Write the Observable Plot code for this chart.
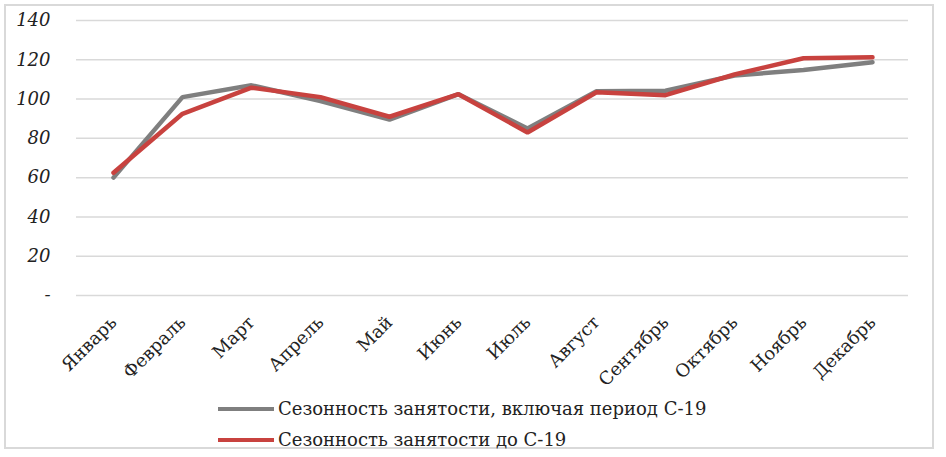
<!DOCTYPE html>
<html>
<head>
<meta charset="utf-8">
<script src="https://cdn.jsdelivr.net/npm/d3@7"></script>
<script src="https://cdn.jsdelivr.net/npm/@observablehq/plot@0.6"></script>
<style>
  body { margin: 0; background: #fff; width: 946px; height: 457px; position: relative; overflow: hidden; }
  #frame { position: absolute; left: 4px; top: 4px; width: 930px; height: 445px; border: 2px solid #d9d9d9; box-sizing: border-box; }
  #chart { position: absolute; left: 0; top: 0; }
  #legend { position: absolute; left: 218px; top: 393px; font-family: "DejaVu Serif", serif; font-size: 18px; color: #222; }
  .row { display: flex; align-items: center; height: 31px; }
  .sw { width: 56px; height: 4px; margin-right: 4px; }
</style>
</head>
<body>
<div id="frame"></div>
<div id="chart"></div>
<div id="legend"></div>
<script>
const months = ["Январь","Февраль","Март","Апрель","Май","Июнь","Июль","Август","Сентябрь","Октябрь","Ноябрь","Декабрь"];
const withCovid = [60, 101, 107, 99, 89.5, 102.5, 85, 104, 104.2, 112, 114.8, 118.8];
const beforeCovid = [62.5, 92.5, 105.8, 101, 91, 102.5, 83, 103.5, 102, 112.5, 120.8, 121.3];
const seriesNames = ["Сезонность занятости, включая период С-19", "Сезонность занятости до С-19"];
const seriesColors = ["#7f7f7f", "#c8423f"];
const yTicks = [0, 20, 40, 60, 80, 100, 120, 140];

const data = [];
months.forEach((m, i) => {
  data.push({month: m, value: withCovid[i], series: seriesNames[0]});
  data.push({month: m, value: beforeCovid[i], series: seriesNames[1]});
});

const chart = Plot.plot({
  width: 946,
  height: 390,
  marginLeft: 76,
  marginRight: 38,
  marginTop: 20,
  marginBottom: 95,
  style: {fontFamily: "'DejaVu Serif', serif", background: "transparent"},
  x: {type: "point", domain: months, padding: 0.5, label: null},
  y: {domain: [0, 140], label: null},
  color: {domain: seriesNames, range: seriesColors},
  marks: [
    Plot.gridY(yTicks, {stroke: "#d9d9d9", strokeOpacity: 1, strokeWidth: 1.5}),
    Plot.axisY(yTicks, {tickSize: 0, tickPadding: 26, tickFormat: d => d === 0 ? "-" : d, fontSize: 18, fontStyle: "italic", fill: "#222", label: null}),
    Plot.axisX({tickSize: 0, tickPadding: 24, tickRotate: -45, fontSize: 18, fill: "#222", label: null}),
    Plot.line(data, {x: "month", y: "value", z: "series", stroke: "series", strokeWidth: 4.5, strokeLinejoin: "miter", strokeLinecap: "round"})
  ]
});
document.getElementById("chart").appendChild(chart);

const legend = document.getElementById("legend");
seriesNames.forEach((n, i) => {
  const row = document.createElement("div");
  row.className = "row";
  const sw = document.createElement("div");
  sw.className = "sw";
  sw.style.background = seriesColors[i];
  const t = document.createElement("span");
  t.textContent = n;
  row.appendChild(sw); row.appendChild(t);
  legend.appendChild(row);
});
</script>
</body>
</html>
